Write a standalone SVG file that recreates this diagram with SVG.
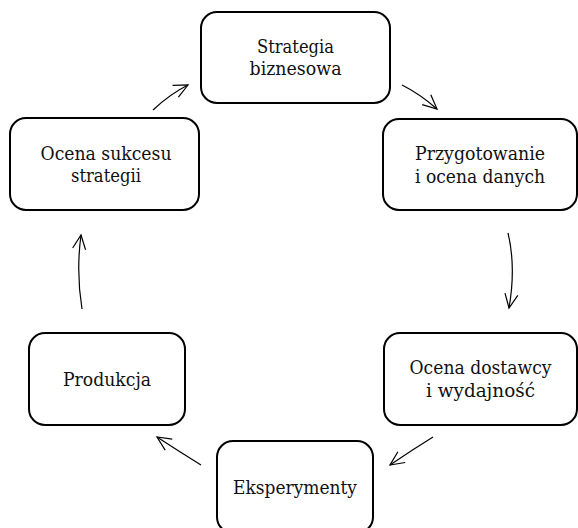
<svg xmlns="http://www.w3.org/2000/svg" width="578" height="528" viewBox="0 0 578 528">
<style>
.box{fill:#fff;stroke:#000;stroke-width:2}
.lbl{font-family:'DejaVu Serif',serif;font-size:19px;fill:#111;text-anchor:middle}
.arr{fill:none;stroke:#000;stroke-width:1.2;marker-end:url(#ah)}
</style>
<defs>
<marker id="ah" markerUnits="userSpaceOnUse" markerWidth="20" markerHeight="20" refX="0" refY="0" viewBox="-16 -10 20 20" orient="auto" overflow="visible">
<path d="M-14,-6.5 L0,0 L-14,6.5" fill="none" stroke="#000" stroke-width="1.2"/>
</marker>
</defs>
<rect width="578" height="528" fill="#fff"/>
<g id="connectors">
<path class="arr" d="M153,110 Q170,94 188,85"/>
<path class="arr" d="M402,85 Q420,94 437,109"/>
<path class="arr" d="M508,233 C514,258 513,285 509,308"/>
<path class="arr" d="M433,437 Q412,450 390,465"/>
<path class="arr" d="M201,465 Q180,452 157,437"/>
<path class="arr" d="M82,309 Q76,272 81,235"/>
</g>
<g id="node-strategia">
<rect class="box" x="201" y="12" width="189" height="91" rx="16"/>
<text class="lbl" x="295.5" y="53" textLength="77" lengthAdjust="spacingAndGlyphs">Strategia</text>
<text class="lbl" x="295.5" y="75" textLength="92" lengthAdjust="spacingAndGlyphs">biznesowa</text>
</g>
<g id="node-przygotowanie">
<rect class="box" x="383" y="119" width="194" height="91" rx="16"/>
<text class="lbl" x="480" y="160" textLength="130" lengthAdjust="spacingAndGlyphs">Przygotowanie</text>
<text class="lbl" x="480" y="183" textLength="130" lengthAdjust="spacingAndGlyphs">i ocena danych</text>
</g>
<g id="node-dostawca">
<rect class="box" x="384" y="333" width="193" height="92" rx="16"/>
<text class="lbl" x="480.5" y="374" textLength="142" lengthAdjust="spacingAndGlyphs">Ocena dostawcy</text>
<text class="lbl" x="480.5" y="397" textLength="109" lengthAdjust="spacingAndGlyphs">i wydajność</text>
</g>
<g id="node-eksperymenty">
<rect class="box" x="217" y="441" width="156" height="92" rx="16"/>
<text class="lbl" x="295" y="494" textLength="124" lengthAdjust="spacingAndGlyphs">Eksperymenty</text>
</g>
<g id="node-produkcja">
<rect class="box" x="29" y="333" width="156" height="92" rx="16"/>
<text class="lbl" x="107" y="386" textLength="88" lengthAdjust="spacingAndGlyphs">Produkcja</text>
</g>
<g id="node-ocena-sukcesu">
<rect class="box" x="10" y="118" width="189" height="92" rx="16"/>
<text class="lbl" x="106" y="160" textLength="131" lengthAdjust="spacingAndGlyphs">Ocena sukcesu</text>
<text class="lbl" x="106" y="182" textLength="70" lengthAdjust="spacingAndGlyphs">strategii</text>
</g>
</svg>
